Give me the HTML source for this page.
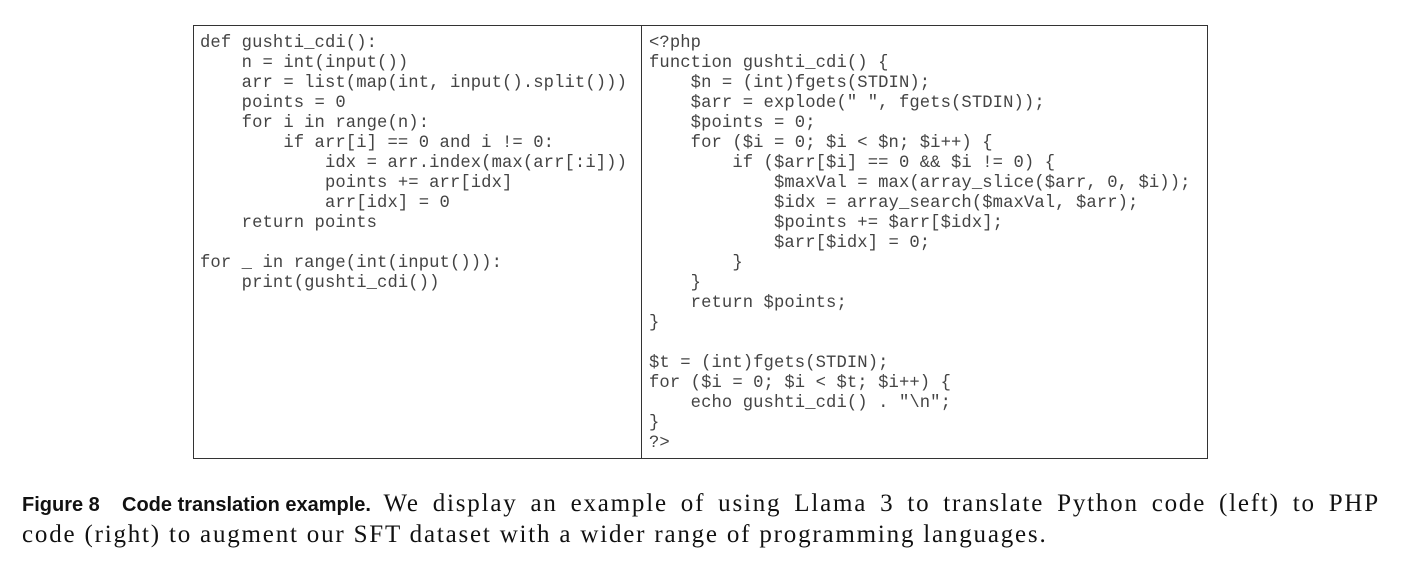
<!DOCTYPE html>
<html><head><meta charset="utf-8"><style>
body{margin:0;width:1404px;height:564px;background:#fff;position:relative;overflow:hidden}
.box{position:absolute;left:193px;top:25px;width:1013px;height:432px;border:1px solid #333}
.div{position:absolute;left:641px;top:25px;width:1px;height:433px;background:#333}
pre{position:absolute;margin:0;font-family:"Liberation Mono",monospace;font-size:17.2px;line-height:20px;color:#444;letter-spacing:0.1px}
.cap{position:absolute;left:22px;font-family:"Liberation Serif",serif;font-size:25px;letter-spacing:1.8px;color:#111;white-space:nowrap}
b{display:inline-block;font-family:"Liberation Sans",sans-serif;font-weight:bold;font-size:20px;letter-spacing:0;white-space:pre}
.l1{width:1358px;text-align:justify;text-align-last:justify}
</style></head><body>
<div class="box"></div><div class="div"></div>
<pre style="left:200px;top:34px">def gushti_cdi():
    n = int(input())
    arr = list(map(int, input().split()))
    points = 0
    for i in range(n):
        if arr[i] == 0 and i != 0:
            idx = arr.index(max(arr[:i]))
            points += arr[idx]
            arr[idx] = 0
    return points

for _ in range(int(input())):
    print(gushti_cdi())</pre>
<pre style="left:649px;top:34px">&lt;?php
function gushti_cdi() {
    $n = (int)fgets(STDIN);
    $arr = explode(" ", fgets(STDIN));
    $points = 0;
    for ($i = 0; $i &lt; $n; $i++) {
        if ($arr[$i] == 0 &amp;&amp; $i != 0) {
            $maxVal = max(array_slice($arr, 0, $i));
            $idx = array_search($maxVal, $arr);
            $points += $arr[$idx];
            $arr[$idx] = 0;
        }
    }
    return $points;
}

$t = (int)fgets(STDIN);
for ($i = 0; $i &lt; $t; $i++) {
    echo gushti_cdi() . "\n";
}
?&gt;</pre>
<div class="cap l1" style="top:490px"><b>Figure 8    Code translation example.</b> We display an example of using Llama 3 to translate Python code (left) to PHP</div>
<div class="cap" style="top:521px">code (right) to augment our SFT dataset with a wider range of programming languages.</div>
</body></html>
